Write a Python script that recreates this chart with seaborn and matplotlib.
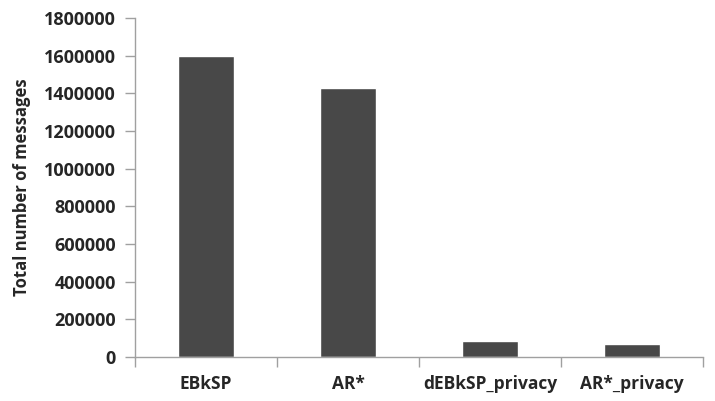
import pandas as pd
import matplotlib.pyplot as plt
import seaborn as sns
from matplotlib.ticker import FixedLocator

methods = ['EBkSP', 'AR*', 'dEBkSP_privacy', 'AR*_privacy']
messages = [1600000, 1428000, 82000, 68000]
yticks = list(range(0, 1800001, 200000))

df = pd.DataFrame({'method': methods, 'messages': messages})

sns.set_style('white')
plt.rcParams['font.family'] = ['Open Sans', 'DejaVu Sans']
plt.rcParams['font.weight'] = 'bold'

fig = plt.figure(figsize=(7.15, 4.01), dpi=100)
ax = fig.add_axes([0.189, 0.110, 0.794, 0.845])

sns.barplot(data=df, x='method', y='messages', color='#484848', width=0.39,
            saturation=1, ax=ax)

ax.set_ylim(0, 1800000)
ax.set_yticks(yticks)
ax.set_yticklabels([str(v) for v in yticks], fontsize=13, fontweight='bold')
ax.set_xlim(-0.5, len(methods) - 0.5)
ax.set_xticks(range(len(methods)))
ax.set_xticklabels(methods, fontsize=12.5, fontweight='bold')
# excel style: ticks between the categories
ax.xaxis.set_minor_locator(FixedLocator([i - 0.5 for i in range(len(methods) + 1)]))

ax.tick_params(axis='x', which='major', length=0, pad=13)
ax.tick_params(axis='x', which='minor', length=7, width=1, color='#a0a0a0',
               direction='out', bottom=True)
ax.tick_params(axis='y', length=7, width=1, color='#a0a0a0', pad=7,
               direction='out', left=True)

ax.set_xlabel('')
ax.set_ylabel('Total number of messages', fontsize=12, fontweight='bold',
              labelpad=9)

for s in ['top', 'right']:
    ax.spines[s].set_visible(False)
for s in ['left', 'bottom']:
    ax.spines[s].set_color('#a0a0a0')
    ax.spines[s].set_linewidth(1)

fig.savefig('out.png', dpi=100)
